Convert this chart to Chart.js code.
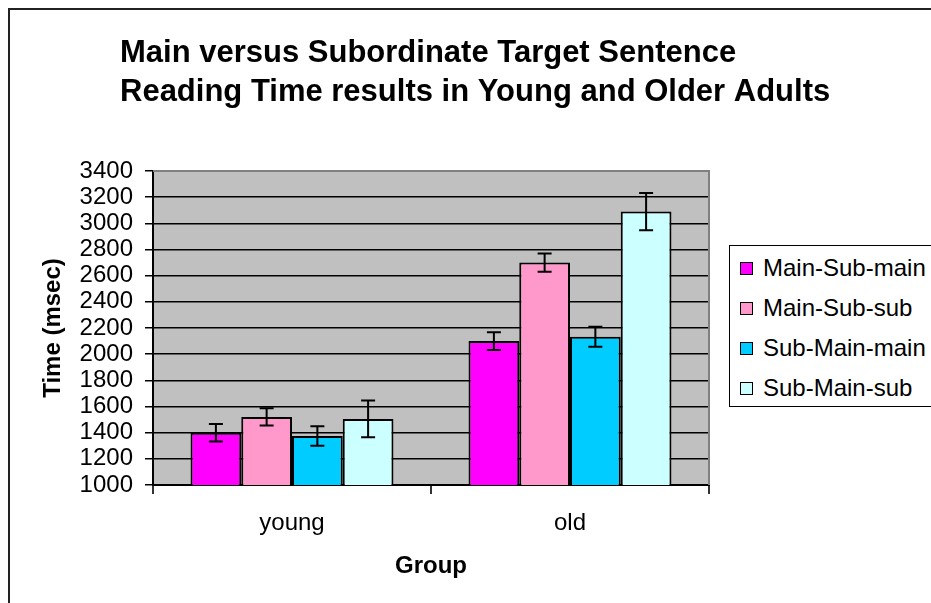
<!DOCTYPE html>
<html>
<head>
<meta charset="utf-8">
<script src="https://cdn.jsdelivr.net/npm/chart.js@4/dist/chart.umd.min.js"></script>
<style>
    body { margin: 0; background: #fff; font-family: 'Liberation Sans', Arial, sans-serif; }
    #wrap { position: relative; width: 931px; height: 603px; overflow: hidden; }
    #frame { position: absolute; left: 8px; top: 8px; width: 1000px; height: 700px; border-left: 2px solid #222; border-top: 2px solid #222; }
    #legend { position: absolute; left: 729px; top: 245px; width: 260px; height: 160px; border: 1px solid #000; background: #fff; }
    .item { position: absolute; left: 10px; height: 28px; line-height: 28px; font-size: 24px; color: #000; white-space: nowrap; }
    .item span.box { display: inline-block; width: 11px; height: 11px; border: 1px solid #000; margin-right: 10px; vertical-align: middle; position: relative; top: -1px; }
    canvas { position: absolute; left: 0; top: 0; }
</style>
</head>
<body>
<div id="wrap">
    <div id="frame"></div>
    <canvas id="ChartReadingTime" width="931" height="603"></canvas>
    <div id="legend"></div>
</div>
<script>
// data
var groups = ['young', 'old'];
var seriesNames = ['Main-Sub-main', 'Main-Sub-sub', 'Sub-Main-main', 'Sub-Main-sub'];
var mainSubMain = [1400, 2100];
var mainSubSub = [1520, 2700];
var subMainMain = [1375, 2133];
var subMainSub = [1505, 3090];
var errMainSubMain = [67, 68];
var errMainSubSub = [66, 70];
var errSubMainMain = [75, 77];
var errSubMainSub = [140, 142];
var yTicks = [1000, 1200, 1400, 1600, 1800, 2000, 2200, 2400, 2600, 2800, 3000, 3200, 3400];
var titleLines = ['Main versus Subordinate Target Sentence', 'Reading Time results in Young and Older Adults'];

var seriesValues = [mainSubMain, mainSubSub, subMainMain, subMainSub];
var seriesErrors = [errMainSubMain, errMainSubSub, errSubMainMain, errSubMainSub];
var colors = ['#FF00FF', '#FF99CC', '#00CCFF', '#CCFFFF'];
var fontFamily = "'Liberation Sans', Arial, sans-serif";

// legend (html)
var legend = document.getElementById('legend');
seriesNames.forEach(function (name, i) {
    var div = document.createElement('div');
    div.className = 'item';
    div.style.top = (8 + i * 40) + 'px';
    div.innerHTML = '<span class="box" style="background:' + colors[i] + '"></span>' + name;
    legend.appendChild(div);
});

var plotBackground = {
    id: 'plotBackground',
    beforeDraw: function (chart) {
        var a = chart.chartArea, ctx = chart.ctx;
        ctx.save();
        ctx.fillStyle = '#C0C0C0';
        ctx.fillRect(a.left, a.top, a.right - a.left, a.bottom - a.top);
        ctx.restore();
    },
    afterDraw: function (chart) {
        var a = chart.chartArea, ctx = chart.ctx;
        ctx.save();
        ctx.strokeStyle = '#808080';
        ctx.lineWidth = 2;
        ctx.beginPath();
        ctx.moveTo(a.left, a.top);
        ctx.lineTo(a.right, a.top);
        ctx.lineTo(a.right, a.bottom);
        ctx.stroke();
        // title
        ctx.fillStyle = '#000';
        ctx.font = 'bold 31px ' + fontFamily;
        ctx.textBaseline = 'middle';
        ctx.textAlign = 'left';
        ctx.fillText(titleLines[0], 120, 53);
        ctx.fillText(titleLines[1], 120, 92);
        ctx.restore();
    }
};

var errorBars = {
    id: 'errorBars',
    afterDatasetsDraw: function (chart) {
        var ctx = chart.ctx, y = chart.scales.y;
        ctx.save();
        ctx.strokeStyle = '#000';
        ctx.lineWidth = 2;
        chart.data.datasets.forEach(function (ds, i) {
            var meta = chart.getDatasetMeta(i);
            meta.data.forEach(function (bar, j) {
                var v = ds.data[j], e = seriesErrors[i][j];
                var top = y.getPixelForValue(v + e), bottom = y.getPixelForValue(v - e);
                ctx.beginPath();
                ctx.moveTo(bar.x, top); ctx.lineTo(bar.x, bottom);
                ctx.moveTo(bar.x - 7, top); ctx.lineTo(bar.x + 7, top);
                ctx.moveTo(bar.x - 7, bottom); ctx.lineTo(bar.x + 7, bottom);
                ctx.stroke();
            });
        });
        ctx.restore();
    }
};

var ctx = document.getElementById('ChartReadingTime').getContext('2d');

var graph = new Chart(ctx, {
    type: 'bar',
    data: {
        labels: groups,
        datasets: seriesNames.map(function (name, i) {
            return {
                label: name,
                data: seriesValues[i],
                backgroundColor: colors[i],
                borderColor: '#000',
                borderWidth: 2,
                borderSkipped: false,
                categoryPercentage: 0.73,
                barPercentage: 1.0
            };
        })
    },
    options: {
        responsive: false,
        animation: false,
        layout: { padding: { top: 171, right: 222, left: 0, bottom: 0 } },
        plugins: {
            legend: { display: false },
            title: { display: false },
            tooltip: { enabled: false }
        },
        scales: {
            x: {
                afterFit: function (scale) { scale.height = 118; },
                grid: { offset: true, drawOnChartArea: false, color: '#333', tickLength: 9, lineWidth: 2 },
                border: { color: '#000', width: 2 },
                ticks: { color: '#000', font: { family: fontFamily, size: 24 }, padding: 15 },
                title: { display: true, text: 'Group', color: '#000', font: { family: fontFamily, size: 24, weight: 'bold' }, padding: { top: 0, bottom: 22 } }
            },
            y: {
                min: 1000,
                max: 3400,
                afterFit: function (scale) { scale.width = 153; },
                afterBuildTicks: function (scale) { scale.ticks = yTicks.map(function (v) { return { value: v }; }); },
                grid: { color: '#000', tickLength: 8, lineWidth: 1.5 },
                border: { color: '#000', width: 2 },
                ticks: {
                    color: '#000',
                    font: { family: fontFamily, size: 24 },
                    padding: 12,
                    autoSkip: false,
                    callback: function (value) { return String(value); }
                },
                title: { display: true, text: 'Time (msec)', color: '#000', font: { family: fontFamily, size: 24, weight: 'bold' }, padding: { top: 39, bottom: 0 } }
            }
        }
    },
    plugins: [plotBackground, errorBars]
});
</script>
</body>
</html>
